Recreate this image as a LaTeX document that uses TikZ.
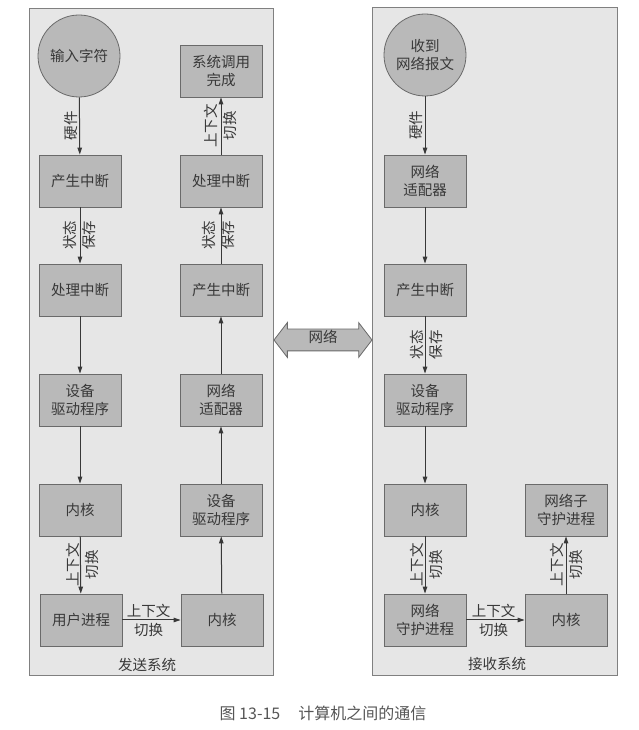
\documentclass[tikz,border=0pt]{standalone}
\usepackage{fontspec}
\setmainfont{Noto Sans CJK SC}
\usetikzlibrary{arrows.meta,shapes.arrows}
\definecolor{tinte}{HTML}{383838}
\definecolor{rahmen}{HTML}{6A6A6A}
\definecolor{feld}{HTML}{E6E6E6}
\definecolor{kastenfarbe}{HTML}{B9B9B9}
\newcommand{\schrift}{\fontsize{14.5}{18}\selectfont}
\newcommand{\randschrift}{\fontsize{14.5}{19}\selectfont}
\tikzset{kasten/.style={draw=rahmen,fill=kastenfarbe,line width=0.8pt,minimum width=82pt,
    minimum height=52pt,inner sep=0,align=center,text=tinte,font=\schrift},
  kreis/.style={circle,draw=rahmen,fill=kastenfarbe,line width=0.8pt,minimum size=82pt,
    inner sep=0,align=center,text=tinte,font=\schrift},
  pfeil/.style={tinte,line width=1pt,-{Triangle[length=7pt,width=4.5pt]}},
  hinweis/.style={inner sep=0,align=center,text=tinte,font=\randschrift},
  system/.style={draw=rahmen!85,fill=feld,line width=0.8pt},
  netzpfeil/.style={double arrow,draw=rahmen,fill=kastenfarbe,line width=0.8pt,
    minimum height=98pt,minimum width=34pt,double arrow head extend=6.5pt,
    double arrow tip angle=105,inner xsep=0,inner ysep=5.5pt,text height=8pt,
    text depth=2pt,text=tinte,font=\schrift}}

\begin{document}
\begin{tikzpicture}[x=1pt,y=1pt]
\useasboundingbox (0,0) rectangle (639,730);
\draw[system] (29,55) rectangle (273,722);
\draw[system] (372,55) rectangle (617,723);
% sendendes system
\node[kreis] (s0) at (79,674) {输入字符};
\node[kasten] (s1) at (80,549) {产生中断};
\node[kasten] (s2) at (80,440) {处理中断};
\node[kasten] (s3) at (80,330) {设备\\驱动程序};
\node[kasten] (s4) at (80,220) {内核};
\node[kasten] (s5) at (81,110) {用户进程};
\node[kasten] (s6) at (222,110) {内核};
\node[kasten] (s7) at (221,220) {设备\\驱动程序};
\node[kasten] (s8) at (221,330) {网络\\适配器};
\node[kasten] (s9) at (221,440) {产生中断};
\node[kasten] (s10) at (221,549) {处理中断};
\node[kasten] (s11) at (221,659) {系统调用\\完成};
\draw[pfeil] (s0) -- node[hinweis,midway,xshift=-9pt,rotate=90] {硬件} (s1);
\draw[pfeil] (s1) -- node[hinweis,midway,xshift=-1pt,rotate=90] {状态\\保存} (s2);
\draw[pfeil] (s2) -- (s3);
\draw[pfeil] (s3) -- (s4);
\draw[pfeil] (s4) -- node[hinweis,midway,xshift=2pt,rotate=90] {上下文\\切换} (s5);
\draw[pfeil] (s5) -- node[hinweis,midway,xshift=-3pt] {上下文\\切换} (s6);
\draw[pfeil] (s6) -- (s7);
\draw[pfeil] (s7) -- (s8);
\draw[pfeil] (s8) -- (s9);
\draw[pfeil] (s9) -- node[hinweis,midway,xshift=-3pt,rotate=90] {状态\\保存} (s10);
\draw[pfeil] (s10) -- node[hinweis,midway,xshift=-1pt,rotate=90] {上下文\\切换} (s11);
\node[hinweis] (sende) at (147,65) {发送系统};
% empfangendes system
\node[kreis] (r0) at (425,675) {收到\\网络报文};
\node[kasten] (r1) at (425,549) {网络\\适配器};
\node[kasten] (r2) at (425,440) {产生中断};
\node[kasten] (r3) at (425,330) {设备\\驱动程序};
\node[kasten] (r4) at (425,220) {内核};
\node[kasten] (r5) at (425,110) {网络\\守护进程};
\node[kasten] (r6) at (566,110) {内核};
\node[kasten] (r7) at (566,220) {网络子\\守护进程};
\draw[pfeil] (r0) -- node[hinweis,midway,xshift=-9pt,rotate=90] {硬件} (r1);
\draw[pfeil] (r1) -- (r2);
\draw[pfeil] (r2) -- node[hinweis,midway,xshift=1pt,rotate=90] {状态\\保存} (r3);
\draw[pfeil] (r3) -- (r4);
\draw[pfeil] (r4) -- node[hinweis,midway,xshift=1pt,rotate=90] {上下文\\切换} (r5);
\draw[pfeil] (r5) -- node[hinweis,midway,xshift=-2pt] {上下文\\切换} (r6);
\draw[pfeil] (r6) -- node[hinweis,midway,rotate=90] {上下文\\切换} (r7);
\node[hinweis] (empfang) at (497,66) {接收系统};
% netz
\node[netzpfeil] (netz) at (323,390) {网络};
\node[inner sep=0,text=tinte!85,font=\fontsize{16}{18}\selectfont] (titel) at (323,17)
  {图 13-15\hspace{18pt}计算机之间的通信};
\end{tikzpicture}
\end{document}
